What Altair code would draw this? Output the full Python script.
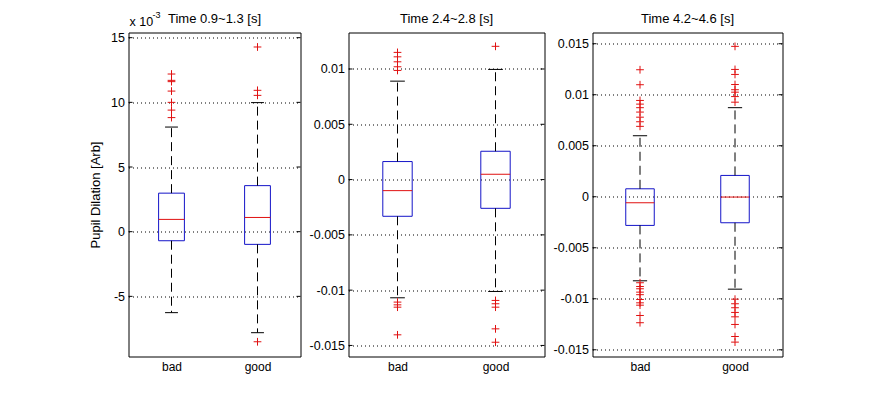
import altair as alt
import pandas as pd

# ---------------- data (all values in units of 1e-3) ----------------
groups = ["bad", "good"]
positions = [1, 2]

panel_titles = ["Time 0.9~1.3 [s]", "Time 2.4~2.8 [s]", "Time 4.2~4.6 [s]"]
y_title = "Pupil Dilation [Arb]"

# panel 1
p1_q1 = [-0.70, -0.98]
p1_med = [0.95, 1.10]
p1_q3 = [2.98, 3.56]
p1_lo = [-6.26, -7.81]
p1_hi = [8.09, 9.98]
p1_out_bad = [12.19, 11.70, 11.60, 10.87, 10.00, 9.40, 8.82]
p1_out_good = [14.28, 10.93, 10.54, -8.51]

# panel 2
p2_q1 = [-3.32, -2.60]
p2_med = [-1.00, 0.48]
p2_q3 = [1.63, 2.56]
p2_lo = [-10.69, -10.12]
p2_hi = [8.90, 9.96]
p2_out_bad = [11.50, 11.10, 10.65, 10.20, 9.87, -11.08, -11.33, -11.54, -14.04]
p2_out_good = [12.05, -10.93, -11.23, -11.54, -13.50, -14.71]

# panel 3
p3_q1 = [-2.81, -2.55]
p3_med = [-0.59, -0.03]
p3_q3 = [0.78, 2.09]
p3_lo = [-8.24, -9.06]
p3_hi = [5.98, 8.73]
p3_out_bad = [12.45, 10.98, 9.44, 9.08, 8.73, 8.30, 7.80, 7.35, 6.90,
              -8.43, -8.80, -9.02, -9.35, -9.60, -10.07, -10.40, -10.63, -11.64, -12.35]
p3_out_good = [14.74, 12.48, 11.99, 11.00, 10.49, 10.25, 9.82, 9.27,
               -10.04, -10.49, -10.88, -11.34, -11.77, -12.52, -13.70, -14.25]

y_domains = [[-9.65, 15.4], [-16.0, 13.3], [-15.66, 16.1]]
y_ticks = [[-5, 0, 5, 10, 15], [-15, -10, -5, 0, 5, 10], [-15, -10, -5, 0, 5, 10, 15]]
panel_widths = [172, 196, 190]
panel_height = 324

FONT = "Liberation Sans"
BOX_C = "#1414c8"
MED_C = "#e01010"
OUT_C = "#e01010"

panels = [
    (p1_q1, p1_med, p1_q3, p1_lo, p1_hi, p1_out_bad, p1_out_good),
    (p2_q1, p2_med, p2_q3, p2_lo, p2_hi, p2_out_bad, p2_out_good),
    (p3_q1, p3_med, p3_q3, p3_lo, p3_hi, p3_out_bad, p3_out_good),
]


def make_panel(i):
    q1, med, q3, lo, hi, ob, og = panels[i]
    w = panel_widths[i]
    box = pd.DataFrame({"pos": positions, "q1": q1, "med": med, "q3": q3, "lo": lo, "hi": hi})
    out = pd.DataFrame({
        "pos": [positions[0]] * len(ob) + [positions[1]] * len(og),
        "val": ob + og,
    })
    ticks_df = pd.DataFrame({"t": y_ticks[i]})
    one = pd.DataFrame({"a": [0]})

    if i == 0:
        label_expr = "'' + datum.value"
        ytitle = y_title
    else:
        label_expr = "'' + datum.value/1000"
        ytitle = ""

    yaxis = alt.Axis(values=y_ticks[i], grid=True, gridDash=[1, 3], gridColor="black",
                     gridOpacity=1, gridWidth=1, ticks=False, domain=False,
                     labelExpr=label_expr, labelPadding=4, titlePadding=8,
                     titleFontWeight="normal", title=ytitle)
    yscale = alt.Scale(domain=y_domains[i], nice=False, zero=False)
    xaxis = alt.Axis(values=positions, grid=False, ticks=False, domain=False, title="",
                     labelExpr="datum.value == 1 ? '%s' : '%s'" % (groups[0], groups[1]),
                     labelPadding=5, labelFontSize=12)
    xscale = alt.Scale(domain=[0.5, 2.5], nice=False, zero=False)

    def X(f):
        return alt.X(f, type="quantitative", scale=xscale, axis=xaxis)

    def Y(f):
        return alt.Y(f, type="quantitative", scale=yscale, axis=yaxis)

    base = alt.Chart(box).transform_calculate(
        xl="datum.pos - 0.15", xr="datum.pos + 0.15",
        cl="datum.pos - 0.075", cr="datum.pos + 0.075")

    rect = base.mark_rect(fill="white", fillOpacity=0, stroke=BOX_C, strokeWidth=1).encode(
        x=X("xl"), x2="xr", y=Y("q1"), y2="q3")
    median = base.mark_rule(color=MED_C, strokeWidth=1).encode(x=X("xl"), x2="xr", y=Y("med"))
    wh_up = base.mark_rule(color="black", strokeDash=[9, 5], strokeWidth=1).encode(
        x=X("pos"), y=Y("q3"), y2="hi")
    wh_dn = base.mark_rule(color="black", strokeDash=[9, 5], strokeWidth=1).encode(
        x=X("pos"), y=Y("q1"), y2="lo")
    cap_up = base.mark_rule(color="black", strokeWidth=1).encode(x=X("cl"), x2="cr", y=Y("hi"))
    cap_dn = base.mark_rule(color="black", strokeWidth=1).encode(x=X("cl"), x2="cr", y=Y("lo"))
    pts = alt.Chart(out).mark_point(shape="M-1,0L1,0M0,-1L0,1", filled=False, stroke=OUT_C,
                                     strokeWidth=1, size=60, opacity=1).encode(
        x=X("pos"), y=Y("val"))
    tick_l = alt.Chart(ticks_df).mark_rule(color="black", strokeWidth=1).encode(
        x=alt.value(0), x2=alt.value(4), y=Y("t"))
    tick_r = alt.Chart(ticks_df).mark_rule(color="black", strokeWidth=1).encode(
        x=alt.value(w - 4), x2=alt.value(w), y=Y("t"))
    title = alt.Chart(one).mark_text(align="center", baseline="middle", font=FONT, fontSize=13,
                                     color="black").encode(
        x=alt.value(w / 2), y=alt.value(-14), text=alt.value(panel_titles[i]))

    layers = [tick_l, tick_r, rect, median, wh_up, wh_dn, cap_up, cap_dn, pts, title]

    if i == 0:
        t1 = alt.Chart(one).mark_text(align="left", baseline="middle", font=FONT, fontSize=12.5,
                                      color="black").encode(
            x=alt.value(1), y=alt.value(-11), text=alt.value("x 10"))
        t2 = alt.Chart(one).mark_text(align="left", baseline="middle", font=FONT, fontSize=9,
                                      color="black").encode(
            x=alt.value(24), y=alt.value(-18), text=alt.value("-3"))
        layers += [t1, t2]

    return alt.layer(*layers).properties(width=w, height=panel_height)


chart = alt.hconcat(make_panel(0), make_panel(1), make_panel(2), spacing=48, bounds="flush").properties(
    padding={"left": 88.5, "top": 9.5, "right": 5, "bottom": 5},
    background="white",
).configure_view(stroke="black", strokeWidth=1).configure_axis(
    labelFont=FONT, labelFontSize=12.5, labelColor="black", titleFont=FONT, titleFontSize=13,
    titleColor="black"
)

chart.save("out.html", embed_options={"renderer": "svg", "actions": False})
